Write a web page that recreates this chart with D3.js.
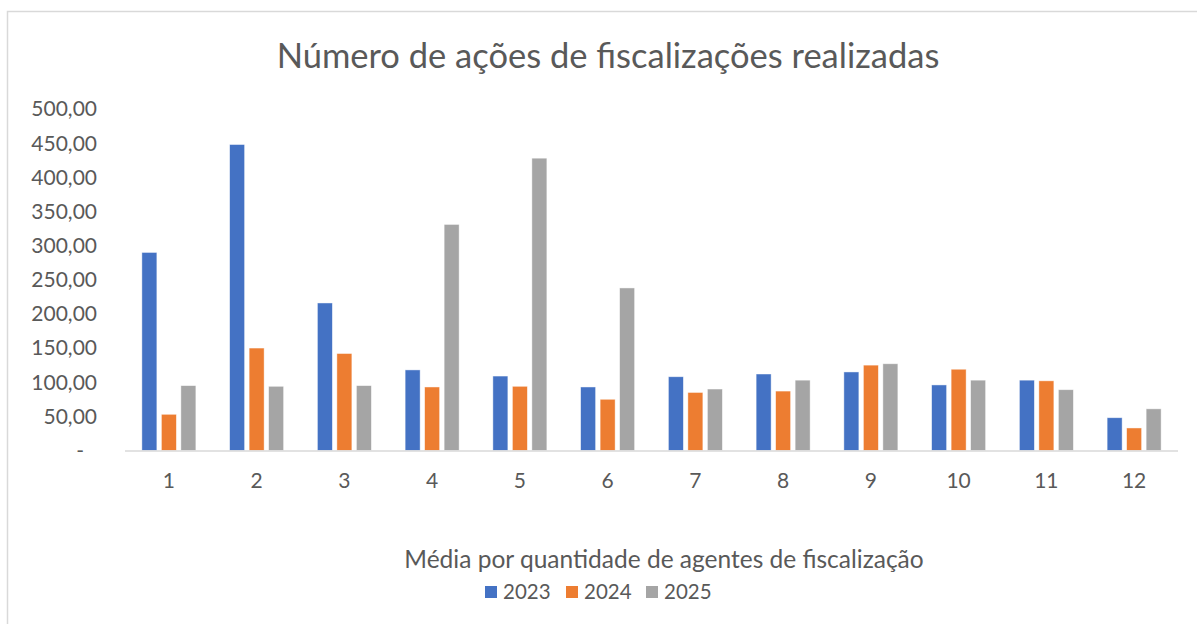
<!DOCTYPE html>
<html>
<head>
<meta charset="utf-8">
<script src="https://cdn.jsdelivr.net/npm/d3@7"></script>
<style>
  body { margin: 0; background: #fff; }
  svg text { font-family: Lato, "Noto Sans", sans-serif; fill: #595959; }
</style>
</head>
<body>
<svg id="chart" width="1197" height="624"></svg>
<script>
var categories = ["1", "2", "3", "4", "5", "6", "7", "8", "9", "10", "11", "12"];
var seriesNames = ["2023", "2024", "2025"];
var values2023 = [290, 448, 216, 118, 109, 93, 108, 112, 115, 96, 103, 48];
var values2024 = [53, 150, 142, 93, 94, 75, 85, 87, 125, 119, 102, 33];
var values2025 = [95, 94, 95, 331, 428, 238, 90, 103, 127, 103, 89, 61];
var yTicks = [0, 50, 100, 150, 200, 250, 300, 350, 400, 450, 500];
var colors = ["#4472c4", "#ed7d31", "#a5a5a5"];

var svg = d3.select("#chart");

// chart frame (right/bottom edges run off the picture)
svg.append("rect")
    .attr("x", 7.5).attr("y", 11.5)
    .attr("width", 1300).attr("height", 700)
    .attr("fill", "none")
    .attr("stroke", "#d9d9d9")
    .attr("stroke-width", 1.5);

var plot = { left: 125, right: 1178, top: 109, bottom: 450.5 };

var x = d3.scaleBand().domain(categories).range([plot.left, plot.right]).padding(0);
var y = d3.scaleLinear().domain([0, 500]).range([plot.bottom, plot.top]);

var rows = categories.map(function (c, i) {
    return { cat: c, vals: [values2023[i], values2024[i], values2025[i]] };
});

var barW = 15, gap = 4.5;
var inner = d3.scaleBand().domain(seriesNames)
    .range([-(barW * 1.5 + gap), barW * 1.5 + gap]).paddingInner(gap / (barW + gap));

var g = svg.append("g");
g.selectAll("g.grp").data(rows).enter().append("g")
    .attr("class", "grp")
    .attr("transform", function (d) { return "translate(" + (x(d.cat) + x.bandwidth() / 2) + ",0)"; })
    .selectAll("rect").data(function (d) {
        return d.vals.map(function (v, i) { return { name: seriesNames[i], v: v, i: i }; });
    })
    .enter().append("rect")
    .attr("x", function (d) { return inner(d.name); })
    .attr("width", inner.bandwidth())
    .attr("y", function (d) { return y(d.v); })
    .attr("height", function (d) { return y(0) - y(d.v); })
    .attr("fill", function (d) { return colors[d.i]; })
    .attr("stroke", "#ffffff")
    .attr("stroke-opacity", 0.6)
    .attr("stroke-width", 0.75);

// x axis line
svg.append("line")
    .attr("x1", plot.left).attr("x2", plot.right)
    .attr("y1", plot.bottom + 0.5).attr("y2", plot.bottom + 0.5)
    .attr("stroke", "#d9d9d9").attr("stroke-width", 1.5);

// y tick labels
var fmt = function (v) { return v === 0 ? "-" : d3.format(".2f")(v).replace(".", ","); };
svg.selectAll("text.ytick").data(yTicks).enter().append("text")
    .attr("class", "ytick")
    .attr("x", function (d) { return d === 0 ? 84 : 97; })
    .attr("y", function (d) { return y(d); })
    .attr("dy", "0.35em")
    .attr("text-anchor", "end")
    .attr("font-size", 21)
    .text(fmt);

// x tick labels
svg.selectAll("text.xtick").data(categories).enter().append("text")
    .attr("class", "xtick")
    .attr("x", function (d) { return x(d) + x.bandwidth() / 2; })
    .attr("y", 488)
    .attr("text-anchor", "middle")
    .attr("font-size", 21)
    .text(function (d) { return d; });

// title
svg.append("text")
    .attr("x", 608).attr("y", 68)
    .attr("text-anchor", "middle")
    .attr("font-size", 34.5)
    .text("Número de ações de fiscalizações realizadas");

// axis title
svg.append("text")
    .attr("x", 664).attr("y", 568)
    .attr("text-anchor", "middle")
    .attr("font-size", 24.5)
    .text("Média por quantidade de agentes de fiscalização");

// legend
var legendX = [485, 566, 646];
var leg = svg.selectAll("g.leg").data(seriesNames).enter().append("g")
    .attr("class", "leg")
    .attr("transform", function (d, i) { return "translate(" + legendX[i] + ",586)"; });
leg.append("rect").attr("width", 12).attr("height", 12)
    .attr("fill", function (d, i) { return colors[i]; });
leg.append("text").attr("x", 18).attr("y", 13)
    .attr("font-size", 20.5)
    .text(function (d) { return d; });
</script>
</body>
</html>
